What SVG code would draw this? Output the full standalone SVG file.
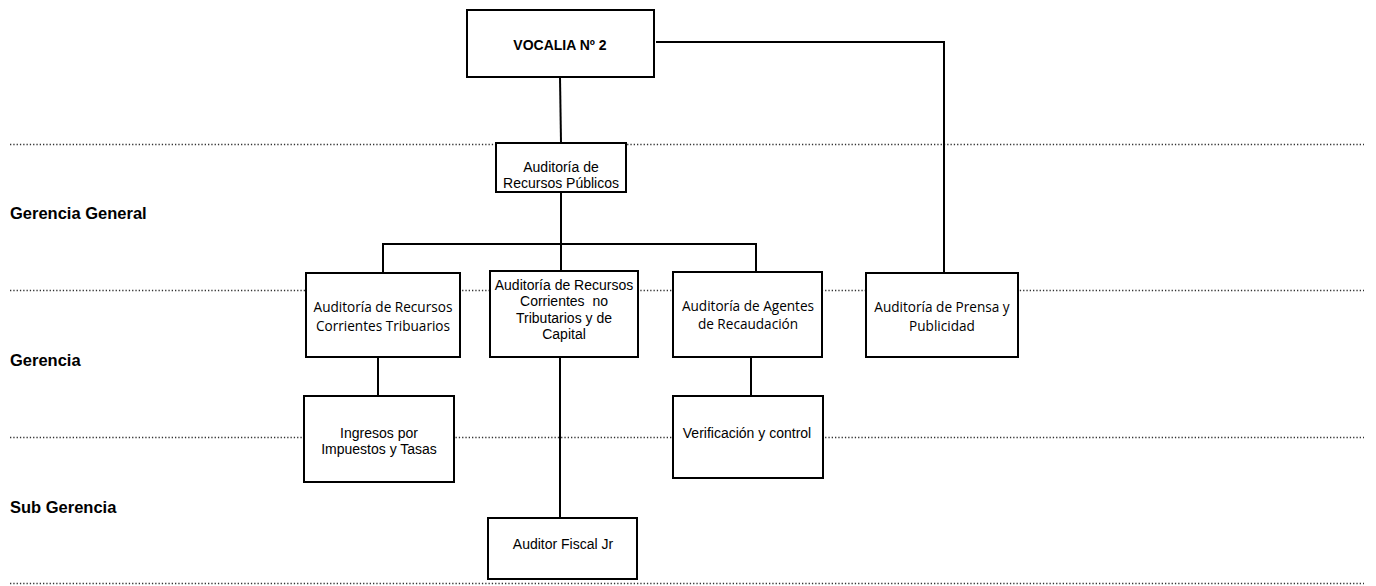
<svg xmlns="http://www.w3.org/2000/svg" width="1376" height="586" viewBox="0 0 1376 586">
<style>
.dot{stroke:#333;stroke-width:1.3;stroke-dasharray:1.3 2;fill:none}
.box{fill:#fff;stroke:#000;stroke-width:2}
.con{stroke:#000;stroke-width:2;fill:none}
.t{font-family:"Liberation Sans",Arial,sans-serif;font-size:14px;fill:#000;text-anchor:middle}
.c{font-family:"Open Sans","Liberation Sans",sans-serif;font-size:13.6px;fill:#000;text-anchor:middle}
.b{font-family:"Liberation Sans",Arial,sans-serif;font-weight:bold;fill:#000}
.lab{font-size:16.5px}
</style>
<rect width="1376" height="586" fill="#fff"/>
<g id="levels">
<line class="dot" x1="10" y1="144.5" x2="1364" y2="144.5"/>
<line class="dot" x1="10" y1="290.5" x2="1364" y2="290.5"/>
<line class="dot" x1="10" y1="437.5" x2="1364" y2="437.5"/>
<line class="dot" x1="10" y1="583.5" x2="1364" y2="583.5"/>
<text class="b lab" x="10" y="219">Gerencia General</text>
<text class="b lab" x="10" y="366">Gerencia</text>
<text class="b lab" x="10" y="513">Sub Gerencia</text>
</g>
<g id="connectors">
<line class="con" x1="560" y1="77" x2="561" y2="143"/>
<polyline class="con" points="656,42 944,42 944,273"/>
<line class="con" x1="561" y1="192" x2="561" y2="271"/>
<polyline class="con" points="383,273 383,244 756,244 756,272"/>
<line class="con" x1="378" y1="357" x2="378" y2="396"/>
<line class="con" x1="560" y1="357" x2="560" y2="518"/>
<line class="con" x1="751" y1="357" x2="751" y2="396"/>
</g>
<g id="vocalia">
<rect class="box" x="467" y="10" width="187" height="67"/>
<text class="b" x="560" y="50" font-size="14" text-anchor="middle">VOCALIA Nº 2</text>
</g>
<g id="recursos-publicos">
<rect class="box" x="496" y="143" width="130" height="49"/>
<text class="t" x="561" y="172">Auditoría de</text>
<text class="t" x="561" y="188">Recursos Públicos</text>
</g>
<g id="corrientes-tributarios">
<rect class="box" x="306" y="273" width="154" height="84"/>
<text class="c" x="383" y="312">Auditoría de Recursos</text>
<text class="c" x="383" y="331">Corrientes Tribuarios</text>
</g>
<g id="no-tributarios">
<rect class="box" x="490" y="271" width="148" height="86"/>
<text class="t" x="564" y="290">Auditoría de Recursos</text>
<text class="t" x="564" y="306" xml:space="preserve">Corrientes  no</text>
<text class="t" x="564" y="322.5">Tributarios y de</text>
<text class="t" x="564" y="339">Capital</text>
</g>
<g id="agentes">
<rect class="box" x="673" y="272" width="149" height="85"/>
<text class="c" x="748" y="311">Auditoría de Agentes</text>
<text class="c" x="748" y="329">de Recaudación</text>
</g>
<g id="prensa">
<rect class="box" x="866" y="273" width="152" height="84"/>
<text class="c" x="942" y="312">Auditoría de Prensa y</text>
<text class="c" x="942" y="331">Publicidad</text>
</g>
<g id="ingresos">
<rect class="box" x="304" y="396" width="150" height="86"/>
<text class="t" x="379" y="438">Ingresos por</text>
<text class="t" x="379" y="454">Impuestos y Tasas</text>
</g>
<g id="verificacion">
<rect class="box" x="673" y="396" width="150" height="82"/>
<text class="t" x="747" y="438">Verificación y control</text>
</g>
<g id="auditor-fiscal">
<rect class="box" x="488" y="518" width="149" height="61"/>
<text class="t" x="563" y="549">Auditor Fiscal Jr</text>
</g>
</svg>
